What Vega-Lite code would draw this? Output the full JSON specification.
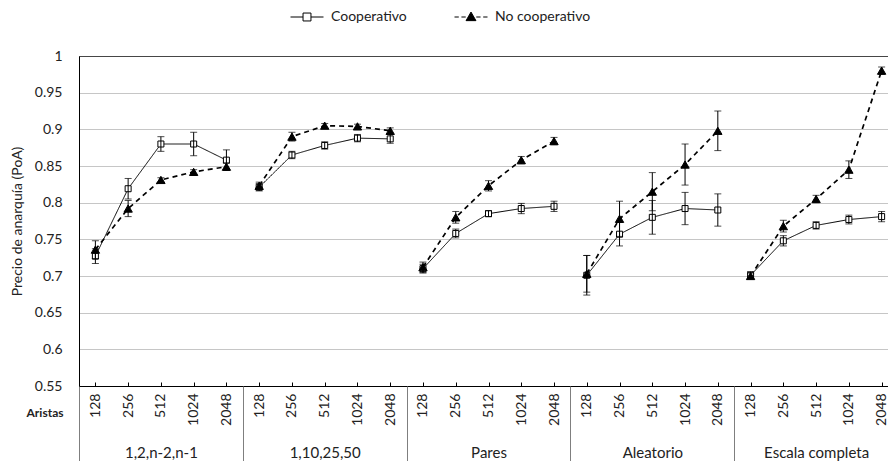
{
  "$schema": "https://vega.github.io/schema/vega-lite/v6.json",
  "autosize": {"type": "none"},
  "padding": {"left": 79, "top": 56, "right": -10, "bottom": 75},
  "width": 819,
  "height": 330,
  "background": "white",
  "datasets": {
    "poa": [
      {"serie": "Cooperativo", "grupo": "1,2,n-2,n-1", "aristas": 128, "cat": "1,2,n-2,n-1|128", "poa": 0.727, "err": 0.010},
      {"serie": "Cooperativo", "grupo": "1,2,n-2,n-1", "aristas": 256, "cat": "1,2,n-2,n-1|256", "poa": 0.819, "err": 0.014},
      {"serie": "Cooperativo", "grupo": "1,2,n-2,n-1", "aristas": 512, "cat": "1,2,n-2,n-1|512", "poa": 0.880, "err": 0.010},
      {"serie": "Cooperativo", "grupo": "1,2,n-2,n-1", "aristas": 1024, "cat": "1,2,n-2,n-1|1024", "poa": 0.880, "err": 0.016},
      {"serie": "Cooperativo", "grupo": "1,2,n-2,n-1", "aristas": 2048, "cat": "1,2,n-2,n-1|2048", "poa": 0.858, "err": 0.014},
      {"serie": "No cooperativo", "grupo": "1,2,n-2,n-1", "aristas": 128, "cat": "1,2,n-2,n-1|128", "poa": 0.736, "err": 0.012},
      {"serie": "No cooperativo", "grupo": "1,2,n-2,n-1", "aristas": 256, "cat": "1,2,n-2,n-1|256", "poa": 0.792, "err": 0.011},
      {"serie": "No cooperativo", "grupo": "1,2,n-2,n-1", "aristas": 512, "cat": "1,2,n-2,n-1|512", "poa": 0.831, "err": 0.003},
      {"serie": "No cooperativo", "grupo": "1,2,n-2,n-1", "aristas": 1024, "cat": "1,2,n-2,n-1|1024", "poa": 0.842, "err": 0.003},
      {"serie": "No cooperativo", "grupo": "1,2,n-2,n-1", "aristas": 2048, "cat": "1,2,n-2,n-1|2048", "poa": 0.849, "err": 0.005},
      {"serie": "Cooperativo", "grupo": "1,10,25,50", "aristas": 128, "cat": "1,10,25,50|128", "poa": 0.821, "err": 0.005},
      {"serie": "Cooperativo", "grupo": "1,10,25,50", "aristas": 256, "cat": "1,10,25,50|256", "poa": 0.865, "err": 0.005},
      {"serie": "Cooperativo", "grupo": "1,10,25,50", "aristas": 512, "cat": "1,10,25,50|512", "poa": 0.878, "err": 0.005},
      {"serie": "Cooperativo", "grupo": "1,10,25,50", "aristas": 1024, "cat": "1,10,25,50|1024", "poa": 0.888, "err": 0.005},
      {"serie": "Cooperativo", "grupo": "1,10,25,50", "aristas": 2048, "cat": "1,10,25,50|2048", "poa": 0.887, "err": 0.006},
      {"serie": "No cooperativo", "grupo": "1,10,25,50", "aristas": 128, "cat": "1,10,25,50|128", "poa": 0.823, "err": 0.005},
      {"serie": "No cooperativo", "grupo": "1,10,25,50", "aristas": 256, "cat": "1,10,25,50|256", "poa": 0.890, "err": 0.006},
      {"serie": "No cooperativo", "grupo": "1,10,25,50", "aristas": 512, "cat": "1,10,25,50|512", "poa": 0.905, "err": 0.003},
      {"serie": "No cooperativo", "grupo": "1,10,25,50", "aristas": 1024, "cat": "1,10,25,50|1024", "poa": 0.904, "err": 0.003},
      {"serie": "No cooperativo", "grupo": "1,10,25,50", "aristas": 2048, "cat": "1,10,25,50|2048", "poa": 0.898, "err": 0.004},
      {"serie": "Cooperativo", "grupo": "Pares", "aristas": 128, "cat": "Pares|128", "poa": 0.710, "err": 0.006},
      {"serie": "Cooperativo", "grupo": "Pares", "aristas": 256, "cat": "Pares|256", "poa": 0.758, "err": 0.006},
      {"serie": "Cooperativo", "grupo": "Pares", "aristas": 512, "cat": "Pares|512", "poa": 0.785, "err": 0.004},
      {"serie": "Cooperativo", "grupo": "Pares", "aristas": 1024, "cat": "Pares|1024", "poa": 0.792, "err": 0.007},
      {"serie": "Cooperativo", "grupo": "Pares", "aristas": 2048, "cat": "Pares|2048", "poa": 0.795, "err": 0.007},
      {"serie": "No cooperativo", "grupo": "Pares", "aristas": 128, "cat": "Pares|128", "poa": 0.712, "err": 0.007},
      {"serie": "No cooperativo", "grupo": "Pares", "aristas": 256, "cat": "Pares|256", "poa": 0.780, "err": 0.008},
      {"serie": "No cooperativo", "grupo": "Pares", "aristas": 512, "cat": "Pares|512", "poa": 0.823, "err": 0.007},
      {"serie": "No cooperativo", "grupo": "Pares", "aristas": 1024, "cat": "Pares|1024", "poa": 0.858, "err": 0.005},
      {"serie": "No cooperativo", "grupo": "Pares", "aristas": 2048, "cat": "Pares|2048", "poa": 0.884, "err": 0.005},
      {"serie": "Cooperativo", "grupo": "Aleatorio", "aristas": 128, "cat": "Aleatorio|128", "poa": 0.701, "err": 0.027},
      {"serie": "Cooperativo", "grupo": "Aleatorio", "aristas": 256, "cat": "Aleatorio|256", "poa": 0.757, "err": 0.016},
      {"serie": "Cooperativo", "grupo": "Aleatorio", "aristas": 512, "cat": "Aleatorio|512", "poa": 0.780, "err": 0.023},
      {"serie": "Cooperativo", "grupo": "Aleatorio", "aristas": 1024, "cat": "Aleatorio|1024", "poa": 0.792, "err": 0.022},
      {"serie": "Cooperativo", "grupo": "Aleatorio", "aristas": 2048, "cat": "Aleatorio|2048", "poa": 0.790, "err": 0.022},
      {"serie": "No cooperativo", "grupo": "Aleatorio", "aristas": 128, "cat": "Aleatorio|128", "poa": 0.703, "err": 0.025},
      {"serie": "No cooperativo", "grupo": "Aleatorio", "aristas": 256, "cat": "Aleatorio|256", "poa": 0.778, "err": 0.024},
      {"serie": "No cooperativo", "grupo": "Aleatorio", "aristas": 512, "cat": "Aleatorio|512", "poa": 0.815, "err": 0.026},
      {"serie": "No cooperativo", "grupo": "Aleatorio", "aristas": 1024, "cat": "Aleatorio|1024", "poa": 0.852, "err": 0.028},
      {"serie": "No cooperativo", "grupo": "Aleatorio", "aristas": 2048, "cat": "Aleatorio|2048", "poa": 0.898, "err": 0.027},
      {"serie": "Cooperativo", "grupo": "Escala completa", "aristas": 128, "cat": "Escala completa|128", "poa": 0.701, "err": 0.005},
      {"serie": "Cooperativo", "grupo": "Escala completa", "aristas": 256, "cat": "Escala completa|256", "poa": 0.748, "err": 0.007},
      {"serie": "Cooperativo", "grupo": "Escala completa", "aristas": 512, "cat": "Escala completa|512", "poa": 0.769, "err": 0.005},
      {"serie": "Cooperativo", "grupo": "Escala completa", "aristas": 1024, "cat": "Escala completa|1024", "poa": 0.777, "err": 0.006},
      {"serie": "Cooperativo", "grupo": "Escala completa", "aristas": 2048, "cat": "Escala completa|2048", "poa": 0.781, "err": 0.007},
      {"serie": "No cooperativo", "grupo": "Escala completa", "aristas": 128, "cat": "Escala completa|128", "poa": 0.700, "err": 0.004},
      {"serie": "No cooperativo", "grupo": "Escala completa", "aristas": 256, "cat": "Escala completa|256", "poa": 0.768, "err": 0.008},
      {"serie": "No cooperativo", "grupo": "Escala completa", "aristas": 512, "cat": "Escala completa|512", "poa": 0.805, "err": 0.005},
      {"serie": "No cooperativo", "grupo": "Escala completa", "aristas": 1024, "cat": "Escala completa|1024", "poa": 0.845, "err": 0.012},
      {"serie": "No cooperativo", "grupo": "Escala completa", "aristas": 2048, "cat": "Escala completa|2048", "poa": 0.980, "err": 0.005}
    ],
    "grupos": [
      {"grupo": "1,2,n-2,n-1"},
      {"grupo": "1,10,25,50"},
      {"grupo": "Pares"},
      {"grupo": "Aleatorio"},
      {"grupo": "Escala completa"}
    ]
  },
  "config": {
    "font": "Lato",
    "view": {"stroke": "black", "strokeWidth": 1},
    "axis": {"labelColor": "#222", "titleColor": "#222", "labelFont": "Lato", "titleFont": "Lato"},
    "axisY": {
      "titleFontSize": 14,
      "titleFontWeight": "normal",
      "titleAngle": 270,
      "titleX": -62,
      "titleY": 165,
      "titleAlign": "center",
      "titleBaseline": "middle",
      "labelFontSize": 14,
      "labelPadding": 17,
      "labelOverlap": false,
      "ticks": false,
      "domainColor": "black",
      "gridColor": "#8c8c8c",
      "gridDash": [1, 1],
      "gridWidth": 1
    },
    "legend": {"labelColor": "#222"}
  },
  "layer": [
    {
      "data": {"name": "poa"},
      "resolve": {"scale": {"shape": "independent", "fill": "independent"}},
      "layer": [
        {
          "mark": {"type": "line", "color": "black"},
          "encoding": {
            "x": {
              "field": "cat", "type": "ordinal", "sort": null,
              "scale": {"type": "point", "padding": 0.5},
              "axis": {
                "orient": "bottom",
                "title": "Aristas",
                "titleFontWeight": "bold",
                "titleFontSize": 12,
                "titleAngle": 0,
                "titleAlign": "right",
                "titleBaseline": "middle",
                "titleX": -16,
                "titleY": 26,
                "labelExpr": "split(datum.value, '|')[1]",
                "labelAngle": 270,
                "labelAlign": "right",
                "labelBaseline": "middle",
                "labelFontSize": 14,
                "labelPadding": 11,
                "tickSize": -4,
                "tickColor": "black",
                "domainColor": "black",
                "grid": false,
                "labelOverlap": false
              }
            },
            "y": {
              "field": "poa", "type": "quantitative",
              "title": "Precio de anarquía (PoA)",
              "scale": {"domain": [0.55, 1], "nice": false, "zero": false},
              "axis": {"values": [0.55, 0.6, 0.65, 0.7, 0.75, 0.8, 0.85, 0.9, 0.95, 1], "format": "~g"}
            },
            "detail": {"field": "grupo"},
            "order": {"field": "aristas", "type": "quantitative"},
            "strokeDash": {
              "field": "serie", "type": "nominal",
              "scale": {"domain": ["No cooperativo", "Cooperativo"], "range": [[5, 4], [1, 0]]},
              "legend": null
            },
            "strokeWidth": {
              "field": "serie", "type": "nominal",
              "scale": {"domain": ["No cooperativo", "Cooperativo"], "range": [1.7, 1]},
              "legend": null
            }
          }
        },
        {
          "mark": {"type": "point", "filled": true, "stroke": "black", "strokeWidth": 1, "opacity": 1},
          "encoding": {
            "x": {"field": "cat", "type": "ordinal", "sort": null},
            "y": {
              "field": "poa", "type": "quantitative",
              "title": "Precio de anarquía (PoA)",
              "axis": {"values": [0.55, 0.6, 0.65, 0.7, 0.75, 0.8, 0.85, 0.9, 0.95, 1], "format": "~g"}
            },
            "shape": {
              "field": "serie", "type": "nominal",
              "scale": {"domain": ["No cooperativo", "Cooperativo"], "range": ["triangle-up", "square"]},
              "legend": null
            },
            "fill": {
              "field": "serie", "type": "nominal",
              "scale": {"domain": ["No cooperativo", "Cooperativo"], "range": ["black", "white"]},
              "legend": null
            },
            "size": {
              "field": "serie", "type": "nominal",
              "scale": {"domain": ["No cooperativo", "Cooperativo"], "range": [70, 36]},
              "legend": null
            }
          }
        },
        {
          "mark": {"type": "errorbar", "color": "black", "thickness": 1, "ticks": {"size": 7, "color": "black"}},
          "encoding": {
            "x": {"field": "cat", "type": "ordinal", "sort": null},
            "y": {
              "field": "poa", "type": "quantitative",
              "title": "Precio de anarquía (PoA)",
              "axis": {"values": [0.55, 0.6, 0.65, 0.7, 0.75, 0.8, 0.85, 0.9, 0.95, 1], "format": "~g"}
            },
            "yError": {"field": "err"}
          }
        },
        {
          "transform": [{"filter": "datum.poa > 2"}],
          "mark": {"type": "point", "filled": false, "color": "black", "strokeWidth": 1, "opacity": 1},
          "encoding": {
            "shape": {
              "field": "serie", "type": "nominal",
              "scale": {
                "domain": ["Cooperativo", "No cooperativo"],
                "range": [
                  "M-1,0H-0.24M0.24,0H1M-0.24,-0.24H0.24V0.24H-0.24Z",
                  "M-1,0H-0.74M-0.58,0H-0.32M0.32,0H0.58M0.74,0H1M0,-0.3L0.3,0.22H-0.3Z"
                ]
              },
              "legend": {
                "title": null,
                "orient": "none",
                "direction": "horizontal",
                "legendX": 211,
                "legendY": -56,
                "padding": 0,
                "symbolSize": 1089,
                "symbolStrokeWidth": 1,
                "symbolOpacity": 1,
                "labelFontSize": 14,
                "labelOffset": 7,
                "columnPadding": 45
              }
            },
            "fill": {
              "field": "serie", "type": "nominal",
              "scale": {"domain": ["Cooperativo", "No cooperativo"], "range": ["white", "black"]}
            }
          }
        }
      ]
    },
    {
      "data": {"name": "grupos"},
      "mark": {"type": "point", "opacity": 0},
      "encoding": {
        "x": {
          "field": "grupo", "type": "nominal", "sort": null,
          "scale": {"type": "band", "paddingInner": 0, "paddingOuter": 0},
          "axis": {
            "orient": "bottom",
            "title": null,
            "domain": false,
            "grid": false,
            "tickBand": "extent",
            "tickSize": 75,
            "tickColor": "#7f7f7f",
            "labelAngle": 0,
            "labelAlign": "center",
            "labelBaseline": "middle",
            "labelFontSize": 15,
            "labelPadding": -9,
            "labelOverlap": false
          }
        }
      }
    }
  ],
  "resolve": {"scale": {"x": "independent"}, "axis": {"x": "independent"}}
}
